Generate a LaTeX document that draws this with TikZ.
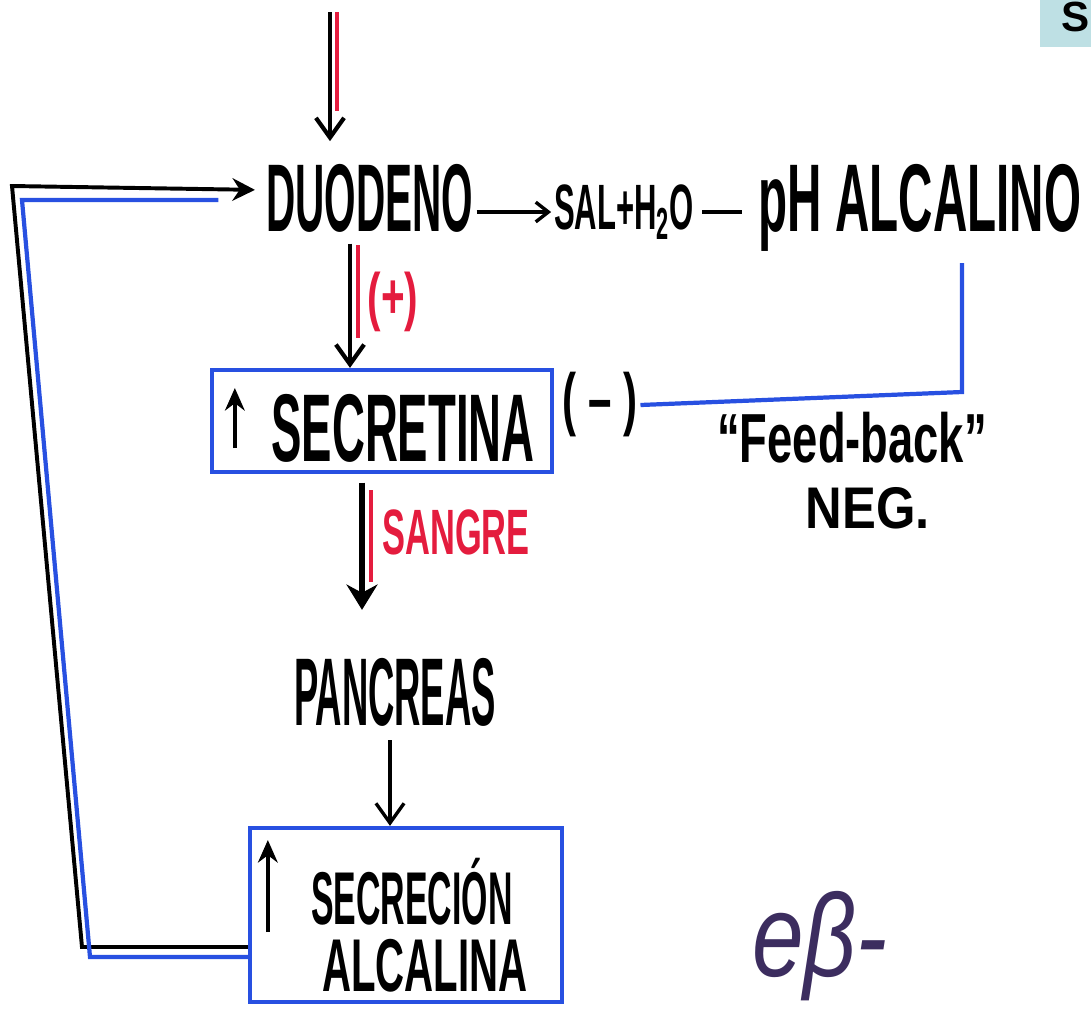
\documentclass[tikz,border=0pt]{standalone}
\usepackage{fontspec}
\setmainfont{Liberation Sans}
\usetikzlibrary{arrows.meta,calc}
\definecolor{azul}{RGB}{40,80,225}
\definecolor{rojo}{RGB}{228,28,62}
\definecolor{tinta}{RGB}{60,45,95}
\definecolor{celeste}{RGB}{190,224,228}
\newcommand\mano[2]{\scalebox{#1}[1.9]{#2}}

\begin{document}
\begin{tikzpicture}[x=0.025cm,y=-0.025cm,>=Stealth,
  texto/.style={inner sep=2pt,font=\bfseries\fontsize{36}{40}\selectfont},
  rojotxt/.style={inner sep=2pt,text=rojo,font=\bfseries\fontsize{24}{28}\selectfont},
  caja/.style={draw=azul,line width=3pt,inner sep=0pt},
  flecha/.style={line width=3pt,-{Straight Barb[length=14pt,width=20pt]}},
  gruesa/.style={line width=4pt,-{Stealth[length=18pt,width=22pt]}},
  sube/.style={line width=3pt,-{Stealth[length=16pt,width=14pt]}},
  acento/.style={rojo,line width=2.8pt},
  azulado/.style={azul,line width=3pt}]
  \useasboundingbox (0,0) rectangle (1091,1009);
  \clip (0,0) rectangle (1091,1009);
  % esquina
  \fill[celeste] (1040,0) rectangle (1091,47);
  \node[anchor=north west,inner sep=0pt,font=\bfseries\fontsize{30}{32}\selectfont] (titulo) at (1061,2) {S};
  % textos
  \node[texto] (duodeno) at (370,198) {\mano{.8}{DUODENO}};
  \node[texto,font=\bfseries\fontsize{24}{30}\selectfont] (sal) at (624,212) {\mano{.92}{SAL+H\textsubscript{2}O}};
  \node[texto] (ph) at (920,208) {\mano{.94}{pH ALCALINO}};
  \node[rojotxt] (mas) at (393,302) {\mano{1.2}{(+)}};
  \node[caja,minimum width=8.5cm,minimum height=2.55cm] (cajasecr) at (382,421) {};
  \node[texto] (secretina) at (403,428) {\mano{.9}{SECRETINA}};
  \node[texto,font=\bfseries\fontsize{26}{30}\selectfont] (menos) at (600,405) {\mano{1.15}{( – )}};
  \node[texto,font=\bfseries\fontsize{26}{32}\selectfont] (feedback) at (852,438) {\mano{1.24}{“Feed-back”}};
  \node[texto,font=\bfseries\fontsize{22}{28}\selectfont] (neg) at (868,508) {\mano{1.64}{NEG.}};
  \node[rojotxt] (sangre) at (456,532) {\mano{1.02}{SANGRE}};
  \node[texto] (pancreas) at (395,692) {\mano{.72}{PANCREAS}};
  \node[caja,minimum width=7.8cm,minimum height=4.35cm] (cajaalc) at (406,915) {};
  \node[texto,font=\bfseries\fontsize{28}{34}\selectfont] (secrecion) at (412,892) {\mano{.86}{SECRECIÓN}};
  \node[texto,font=\bfseries\fontsize{28}{34}\selectfont] (alcalina) at (425,966) {\mano{1.02}{ALCALINA}};
  \node[text=tinta,font=\itshape\fontsize{44}{52}\selectfont] (rubrica) at (820,946) {\mano{1.5}{eβ-}};
  % columnas
  \coordinate (entrada) at (330,12);
  \coordinate (col1) at (350,0);
  \coordinate (col2) at (362,0);
  \coordinate (col3) at (390,0);
  \coordinate (codo) at (962,392);
  \coordinate (esqinf) at (85,952);
  \coordinate (esqsup) at (17,193);
  % flechas
  \draw[flecha,shorten >=14pt] (entrada) -- (entrada |- duodeno.north);
  \draw[acento] ($(entrada)+(7,0)$) -- ($(entrada |- duodeno.north)+(7,-50)$);
  \draw[line width=2.4pt,-{Straight Barb[length=9pt,width=14pt]}] (sal.west -| duodeno.east) -- (sal.west);
  \draw[line width=3pt,shorten <=4pt,shorten >=10pt] (sal.east) -- (sal.east -| ph.west);
  \draw[flecha,shorten <=6pt] (duodeno.south -| col1) -- (cajasecr.north -| col1);
  \draw[acento] ($(duodeno.south -| col1)+(8,10)$) -- ($(cajasecr.north -| col1)+(8,-30)$);
  \draw[gruesa,shorten <=6pt,shorten >=32pt] (cajasecr.south -| col2) -- (pancreas.north -| col2);
  \draw[acento] ($(cajasecr.south -| col2)+(9,16)$) -- ($(cajasecr.south -| col2)+(9,108)$);
  \draw[flecha,line width=2.4pt,shorten <=8pt] (pancreas.south -| col3) -- (cajaalc.north -| col3);
  \draw[sube] ($(cajasecr.west)+(25,27)$) -- ++(0,-60);
  \draw[sube] ($(cajaalc.west)+(20,17)$) -- ++(0,-92);
  % feed-back
  \draw[azulado,shorten <=6pt] (ph.south -| codo) -- (codo) -- (menos.east);
  \draw[line width=2.8pt,-{Stealth[length=16pt,width=16pt]},shorten >=6pt]
    ($(cajaalc.west |- esqinf)+(0,-5)$) -- ($(esqinf)+(-3,-5)$) -- ($(esqsup)+(-5,-7)$) -- ($(duodeno.west)+(0,-8)$);
  \draw[azulado]
    ($(cajaalc.west |- esqinf)+(0,5)$) -- ($(esqinf)+(5,5)$) -- ($(esqsup)+(5,7)$) -- ($(duodeno.west)+(-45,2)$);
\end{tikzpicture}
\end{document}
